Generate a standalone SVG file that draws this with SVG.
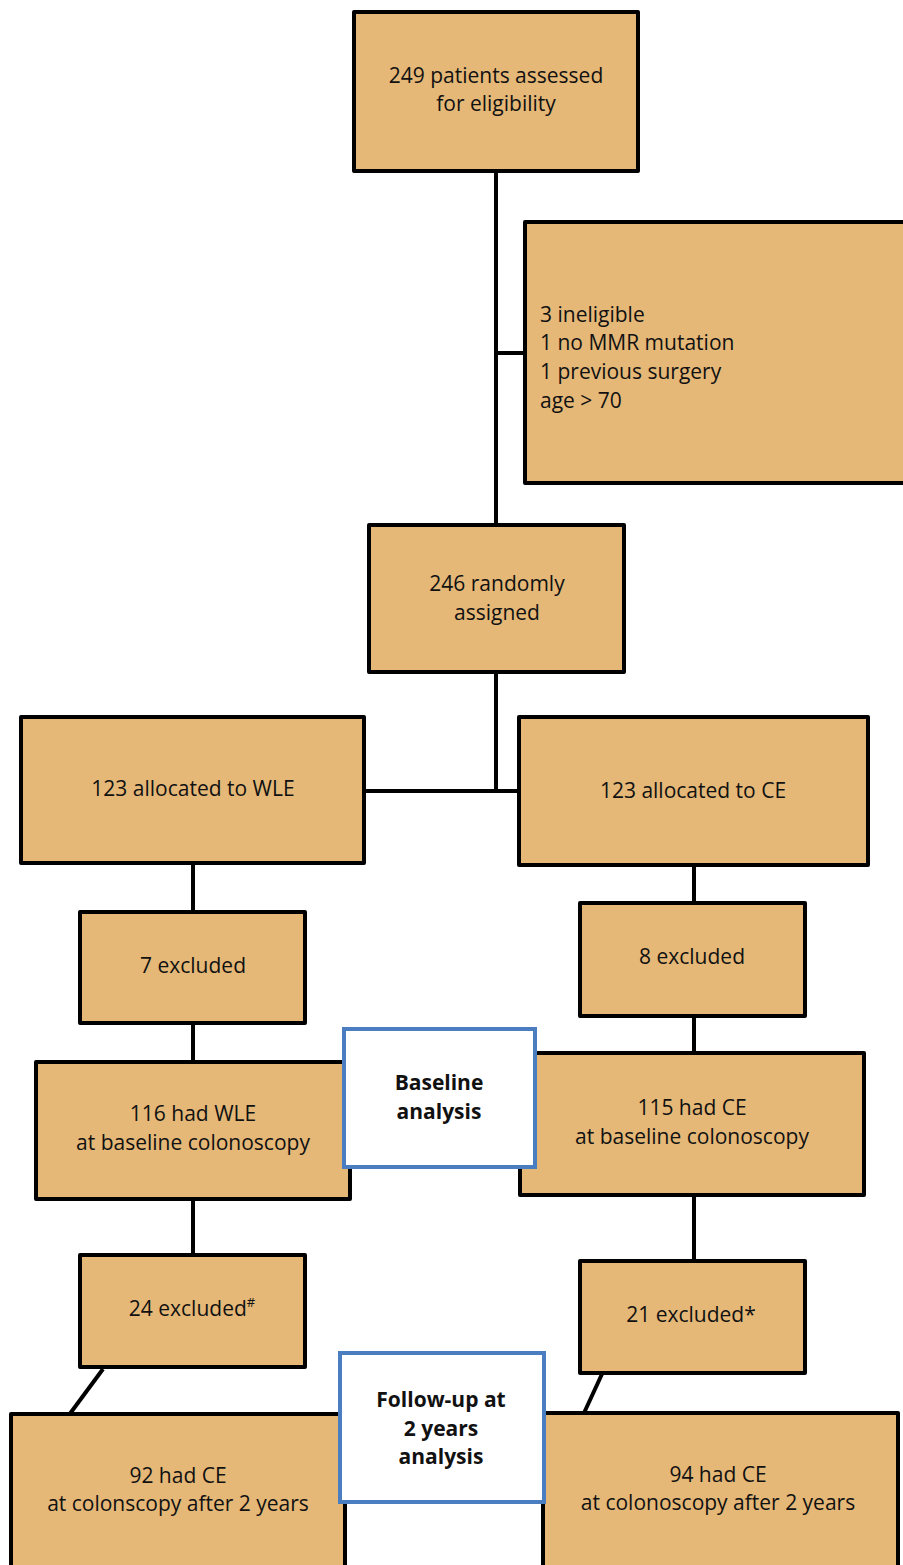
<svg xmlns="http://www.w3.org/2000/svg" width="903" height="1565" viewBox="0 0 903 1565">
<style>
.box{fill:#E5B878;stroke:#000;stroke-width:4;stroke-linejoin:round}
.blue{fill:#fff;stroke:#4A7EC0;stroke-width:4}
.ln{stroke:#000;stroke-width:4;fill:none}
text{font-family:"Open Sans","Noto Sans",sans-serif;font-size:21px;fill:#111}
.c{text-anchor:middle}
.b{font-weight:bold}
</style>
<rect width="903" height="1565" fill="#fff"/>
<g id="connectors">
<line class="ln" x1="496" y1="171" x2="496" y2="525"/>
<line class="ln" x1="496" y1="353" x2="525" y2="353"/>
<line class="ln" x1="496" y1="672" x2="496" y2="791"/>
<line class="ln" x1="364" y1="791" x2="519" y2="791"/>
<line class="ln" x1="193" y1="863" x2="193" y2="912"/>
<line class="ln" x1="193" y1="1023" x2="193" y2="1062"/>
<line class="ln" x1="694" y1="865" x2="694" y2="903"/>
<line class="ln" x1="694" y1="1016" x2="694" y2="1053"/>
<line class="ln" x1="193" y1="1199" x2="193" y2="1255"/>
<line class="ln" x1="694" y1="1195" x2="694" y2="1261"/>
<line class="ln" x1="103" y1="1369" x2="69" y2="1415"/>
<line class="ln" x1="602" y1="1374" x2="584" y2="1413"/>
</g>
<g id="n1"><rect class="box" x="354" y="12" width="284" height="159"/>
<text class="c" x="496" y="83">249 patients assessed</text><text class="c" x="496" y="111">for eligibility</text></g>
<g id="n2"><rect class="box" x="525" y="222" width="385" height="261"/>
<text x="540" y="322">3 ineligible</text><text x="540" y="350">1 no MMR mutation</text><text x="540" y="379">1 previous surgery</text><text x="540" y="408">age &gt; 70</text></g>
<g id="n3"><rect class="box" x="369" y="525" width="255" height="147"/>
<text class="c" x="497" y="591">246 randomly</text><text class="c" x="497" y="620">assigned</text></g>
<g id="n4"><rect class="box" x="21" y="717" width="343" height="146"/>
<text class="c" x="193" y="796">123 allocated to WLE</text></g>
<g id="n5"><rect class="box" x="519" y="717" width="349" height="148"/>
<text class="c" x="693" y="798">123 allocated to CE</text></g>
<g id="n6"><rect class="box" x="80" y="912" width="225" height="111"/>
<text class="c" x="193" y="973">7 excluded</text></g>
<g id="n7"><rect class="box" x="580" y="903" width="225" height="113"/>
<text class="c" x="692" y="964">8 excluded</text></g>
<g id="n8"><rect class="box" x="36" y="1062" width="314" height="137"/>
<text class="c" x="193" y="1121">116 had WLE</text><text class="c" x="193" y="1150">at baseline colonoscopy</text></g>
<g id="n9"><rect class="box" x="520" y="1053" width="344" height="142"/>
<text class="c" x="692" y="1115">115 had CE</text><text class="c" x="692" y="1144">at baseline colonoscopy</text></g>
<g id="n10"><rect class="box" x="80" y="1255" width="225" height="112"/>
<text class="c" x="192" y="1316">24 excluded<tspan font-size="13" dy="-9">#</tspan></text></g>
<g id="n11"><rect class="box" x="580" y="1261" width="225" height="112"/>
<text class="c" x="691" y="1322">21 excluded*</text></g>
<g id="n12"><rect class="box" x="11" y="1414" width="334" height="160"/>
<text class="c" x="178" y="1483">92 had CE</text><text class="c" x="178" y="1511">at colonscopy after 2 years</text></g>
<g id="n13"><rect class="box" x="543" y="1413" width="355" height="160"/>
<text class="c" x="718" y="1482">94 had CE</text><text class="c" x="718" y="1510">at colonoscopy after 2 years</text></g>
<g id="n14"><rect class="blue" x="344" y="1029" width="191" height="138"/>
<text class="c b" x="439" y="1090">Baseline</text><text class="c b" x="439" y="1119">analysis</text></g>
<g id="n15"><rect class="blue" x="340" y="1353" width="204" height="149"/>
<text class="c b" x="441" y="1407">Follow-up at</text><text class="c b" x="441" y="1436">2 years</text><text class="c b" x="441" y="1464">analysis</text></g>
</svg>
